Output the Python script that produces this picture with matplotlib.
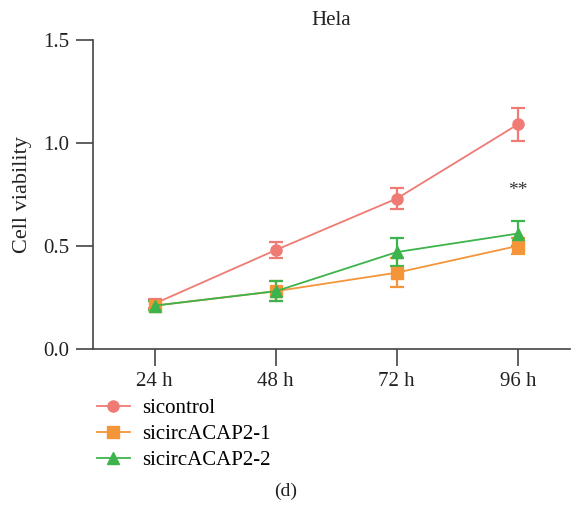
import matplotlib
matplotlib.use("Agg")
import matplotlib.pyplot as plt
from matplotlib.lines import Line2D
import numpy as np

plt.rcParams['font.family'] = ['Liberation Serif', 'DejaVu Serif']

categories = ["24 h", "48 h", "72 h", "96 h"]
series_names = ["sicontrol", "sicircACAP2-1", "sicircACAP2-2"]
sicontrol = [0.22, 0.48, 0.73, 1.09]
sicontrol_err = [0.02, 0.04, 0.05, 0.08]
acap1 = [0.21, 0.28, 0.37, 0.50]
acap1_err = [0.02, 0.05, 0.07, 0.04]
acap2 = [0.21, 0.28, 0.47, 0.56]
acap2_err = [0.02, 0.05, 0.07, 0.06]
colors = ["#F07A74", "#F5953A", "#3CB44B"]
markers = ["o", "s", "^"]

fig = plt.figure(figsize=(5.71, 5.13), dpi=100)
ax = fig.add_axes([0.163, 0.320, 0.835, 0.602])
x = np.arange(len(categories))
handles = []
for vals, errs, c, m, name in zip([sicontrol, acap1, acap2],
                                  [sicontrol_err, acap1_err, acap2_err],
                                  colors, markers, series_names):
    ax.errorbar(x, vals, yerr=errs, color=c, marker=m, markersize=8,
                linewidth=1.3, elinewidth=1.6, capsize=5, capthick=1.6)
    handles.append(Line2D([], [], color=c, marker=m, markersize=8,
                          linewidth=1.3, label=name))

ax.set_xlim(-0.51, 3.43)
ax.set_ylim(0, 1.5)
ax.set_yticks([0, 0.5, 1.0, 1.5])
ax.set_yticklabels(["0.0", "0.5", "1.0", "1.5"])
ax.set_xticks(x)
ax.set_xticklabels(categories)
for s in ["top", "right"]:
    ax.spines[s].set_visible(False)
for s in ["left", "bottom"]:
    ax.spines[s].set_color("#444444")
    ax.spines[s].set_linewidth(1.2)
ax.tick_params(axis='both', labelsize=15, length=12, width=1.2, color="#444444",
               labelcolor="#222222", pad=5)
ax.set_ylabel("Cell viability", fontsize=16, color="#222222", labelpad=8)
ax.set_title("Hela", fontsize=15, color="#222222", pad=11)
ax.text(3, 0.77, "**", ha="center", va="center", fontsize=14, color="#333333")

ax.legend(handles=handles, loc="upper left", bbox_to_anchor=(-0.01, -0.135),
          frameon=False, fontsize=15, handlelength=1.6, labelspacing=0.3,
          borderaxespad=0, handletextpad=0.6)
fig.text(0.5, 0.043, "(d)", ha="center", va="center", fontsize=14, color="#222222")
fig.savefig("out.png", dpi=100)
